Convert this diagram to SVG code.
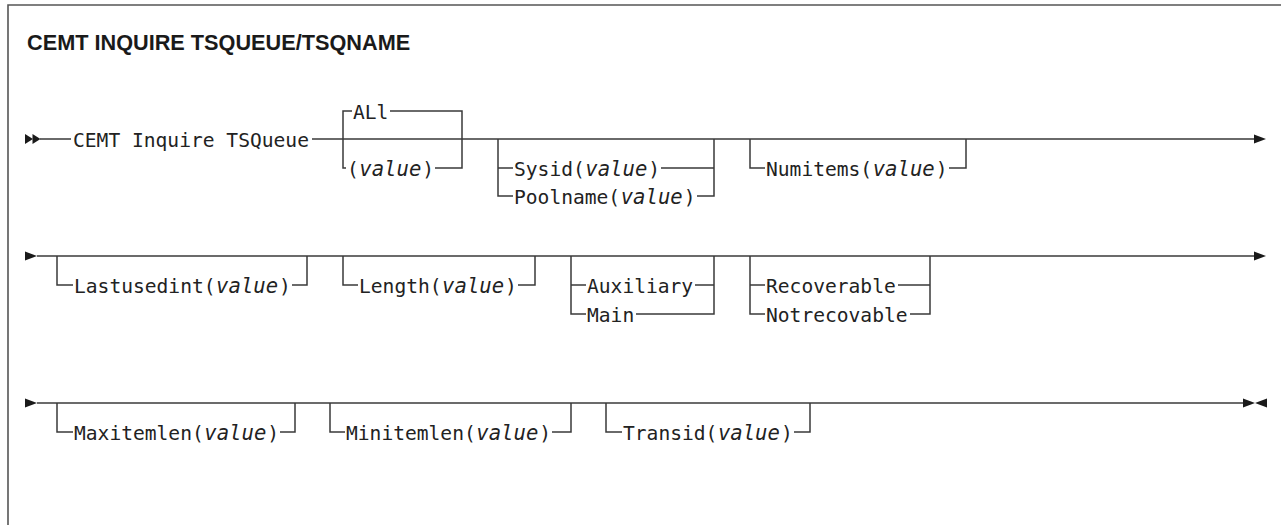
<svg xmlns="http://www.w3.org/2000/svg" width="1281" height="525" viewBox="0 0 1281 525">
<style>
.ln{fill:none;stroke:#3a3a3a;stroke-width:1.5}
.t{font-family:"DejaVu Sans Mono","Liberation Mono",monospace;font-size:19.6px;fill:#222}
.v{font-style:italic;font-size:20.6px}
.title{font-family:"Liberation Sans",Arial,sans-serif;font-weight:bold;font-size:21.7px;fill:#1a1a1a}
.ar{fill:#1a1a1a}
</style>
<defs>
<polygon id="tri" points="0,-4.5 12,0 0,4.5"/>
<polygon id="tri2" points="0,-5 8,0 0,5"/>
</defs>
<rect width="1281" height="525" fill="#fff"/>
<path d="M8,525 V5 H1281" fill="none" stroke="#555" stroke-width="1.6"/>
<text class="title" x="27" y="50">CEMT INQUIRE TSQUEUE/TSQNAME</text>

<g id="connectors">
<!-- row 1 -->
<path class="ln" d="M40,139 H71 M312,139 H1255"/>
<path class="ln" d="M352,111 H343 V168 H346 M390,111 H462 V168 H435"/>
<path class="ln" d="M498,139 V196 H513 M498,168 H513 M661,168 H714 M714,139 V196 H697"/>
<path class="ln" d="M750,139 V168 H765 M949,168 H966 V139"/>
<!-- row 2 -->
<path class="ln" d="M37,256 H1255"/>
<path class="ln" d="M57,256 V285 H73 M292,285 H307 V256"/>
<path class="ln" d="M343,256 V285 H358 M518,285 H535 V256"/>
<path class="ln" d="M571,256 V314 H586 M571,285 H586 M695,285 H714 M714,256 V314 H636"/>
<path class="ln" d="M750,256 V314 H765 M750,285 H765 M898,285 H930 M930,256 V314 H910"/>
<!-- row 3 -->
<path class="ln" d="M37,403 H1244"/>
<path class="ln" d="M57,403 V432 H73 M280,432 H295 V403"/>
<path class="ln" d="M330,403 V432 H345 M552,432 H571 V403"/>
<path class="ln" d="M606,403 V432 H622 M794,432 H810 V403"/>
<!-- terminators -->
<use href="#tri2" class="ar" x="25" y="139"/>
<use href="#tri2" class="ar" x="32.5" y="139"/>
<use href="#tri" class="ar" x="1254" y="139"/>
<use href="#tri" class="ar" x="25" y="256"/>
<use href="#tri" class="ar" x="1254" y="256"/>
<use href="#tri" class="ar" x="25" y="403"/>
<use href="#tri" class="ar" x="1243" y="403"/>
<use href="#tri" class="ar" transform="translate(1267,403) scale(-1,1)"/>
</g>

<g id="node-cemt"><text class="t" x="73" y="146.5">CEMT Inquire TSQueue</text></g>
<g id="node-all"><text class="t" x="353" y="118.5">ALl</text></g>
<g id="node-value">
<text class="t" x="347" y="175.5">(</text>
<text class="t v" x="359.3" y="175.5">value</text>
<text class="t" x="422.3" y="175.5">)</text>
</g>
<g id="node-sysid">
<text class="t" x="514" y="175.5">Sysid(</text>
<text class="t v" x="585.3" y="175.5">value</text>
<text class="t" x="648.3" y="175.5">)</text>
</g>
<g id="node-poolname">
<text class="t" x="514" y="203.5">Poolname(</text>
<text class="t v" x="620.7" y="203.5">value</text>
<text class="t" x="683.7" y="203.5">)</text>
</g>
<g id="node-numitems">
<text class="t" x="766" y="175.5">Numitems(</text>
<text class="t v" x="872.7" y="175.5">value</text>
<text class="t" x="935.7" y="175.5">)</text>
</g>

<g id="node-lastusedint">
<text class="t" x="74" y="292.5">Lastusedint(</text>
<text class="t v" x="216.1" y="292.5">value</text>
<text class="t" x="279.1" y="292.5">)</text>
</g>
<g id="node-length">
<text class="t" x="359" y="292.5">Length(</text>
<text class="t v" x="442.1" y="292.5">value</text>
<text class="t" x="505.1" y="292.5">)</text>
</g>
<g id="node-auxiliary"><text class="t" x="587" y="292.5">Auxiliary</text></g>
<g id="node-main"><text class="t" x="587" y="321.5">Main</text></g>
<g id="node-recoverable"><text class="t" x="766" y="292.5">Recoverable</text></g>
<g id="node-notrecovable"><text class="t" x="766" y="321.5">Notrecovable</text></g>

<g id="node-maxitemlen">
<text class="t" x="74" y="439.5">Maxitemlen(</text>
<text class="t v" x="204.3" y="439.5">value</text>
<text class="t" x="267.3" y="439.5">)</text>
</g>
<g id="node-minitemlen">
<text class="t" x="346" y="439.5">Minitemlen(</text>
<text class="t v" x="476.3" y="439.5">value</text>
<text class="t" x="539.3" y="439.5">)</text>
</g>
<g id="node-transid">
<text class="t" x="623" y="439.5">Transid(</text>
<text class="t v" x="717.9" y="439.5">value</text>
<text class="t" x="780.9" y="439.5">)</text>
</g>
</svg>
